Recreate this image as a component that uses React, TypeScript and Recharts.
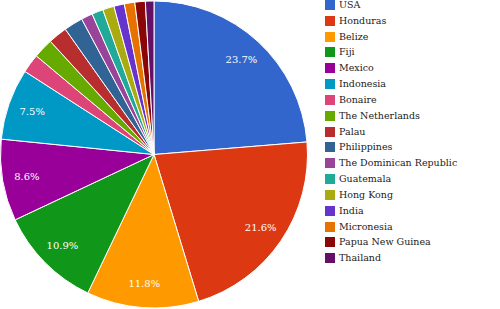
import { PieChart, Pie, Cell, Legend } from "recharts"

const countries = [
  "USA", "Honduras", "Belize", "Fiji", "Mexico", "Indonesia", "Bonaire",
  "The Netherlands", "Palau", "Philippines", "The Dominican Republic",
  "Guatemala", "Hong Kong", "India", "Micronesia", "Papua New Guinea", "Thailand",
]
const shares = [23.7, 21.6, 11.8, 10.9, 8.6, 7.5, 2.0, 2.1, 2.0, 2.0, 1.2, 1.2, 1.2, 1.1, 1.1, 1.1, 0.9]
const colors = [
  "#3366cc", "#dc3912", "#ff9900", "#109618", "#990099", "#0099c6", "#dd4477",
  "#66aa00", "#b82e2e", "#316395", "#994499", "#22aa99", "#aaaa11", "#6633cc",
  "#e67300", "#8b0707", "#651067",
]

const data = countries.map((name, i) => ({ name, value: shares[i] }))
const RAD = Math.PI / 180
const font = "'DejaVu Serif', 'Liberation Serif', serif"

const renderLabel = (props: any) => {
  const { cx, cy, midAngle, percent } = props
  if (percent < 0.05) return null
  const r = 129
  const x = cx + r * Math.cos(-midAngle * RAD)
  const y = cy + r * Math.sin(-midAngle * RAD)
  return (
    <text x={x} y={y} fill="#fff" fontSize={10} style={{ fontFamily: font }} textAnchor="middle" dominantBaseline="central">
      {(percent * 100).toFixed(1)}%
    </text>
  )
}

const LegendList = () => (
  <div style={{ position: "relative", width: 175, height: 270 }}>
    {countries.map((name, i) => (
      <div key={name} style={{ position: "absolute", left: 0, top: i * 15.83, height: 10, display: "flex", alignItems: "center" }}>
        <div style={{ width: 10, height: 10, background: colors[i], marginRight: 4 }} />
        <span style={{ fontFamily: font, fontSize: 9.5, color: "#222", whiteSpace: "nowrap", lineHeight: "10px" }}>{name}</span>
      </div>
    ))}
  </div>
)

export default function App() {
  return (
    <div style={{ position: "absolute", left: 0, top: 0, width: 500, height: 309, background: "#fff" }}>
      <PieChart width={500} height={309} margin={{ top: 0, right: 0, bottom: 0, left: 0 }}>
        <Pie
          data={data}
          dataKey="value"
          nameKey="name"
          cx={154}
          cy={154.5}
          outerRadius={153.5}
          startAngle={90}
          endAngle={-270}
          stroke="#fff"
          strokeWidth={1}
          label={renderLabel}
          labelLine={false}
          isAnimationActive={false}
        >
          {data.map((d, i) => (
            <Cell key={d.name} fill={colors[i]} />
          ))}
        </Pie>
        <Legend
          layout="vertical"
          align="right"
          verticalAlign="top"
          content={() => <LegendList />}
          wrapperStyle={{ left: 325, top: 0, width: 175 }}
        />
      </PieChart>
    </div>
  )
}
